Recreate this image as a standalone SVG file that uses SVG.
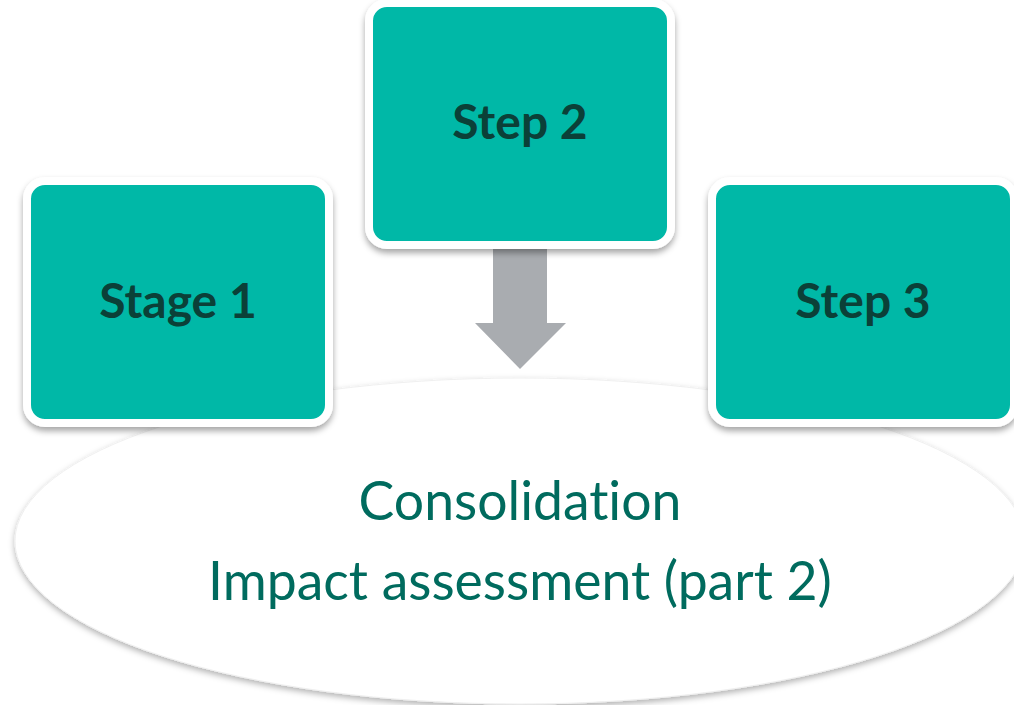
<svg xmlns="http://www.w3.org/2000/svg" width="1014" height="705" viewBox="0 0 1014 705">
<defs>
<filter id="sh" x="-10%" y="-10%" width="120%" height="130%">
<feDropShadow dx="0" dy="4" stdDeviation="3" flood-color="#000" flood-opacity="0.35"/>
</filter>
<filter id="esh" x="-5%" y="-5%" width="110%" height="115%">
<feDropShadow dx="0" dy="3" stdDeviation="3" flood-color="#000" flood-opacity="0.3"/>
</filter>
<style>
.box{fill:#00B8A7;stroke:#fff;stroke-width:8;filter:url(#sh)}
.lbl{font-family:Lato,"Liberation Sans",sans-serif;font-weight:bold;font-size:48px;fill:#0B4038;text-anchor:middle}
.etx{font-family:Lato,"Liberation Sans",sans-serif;font-size:53.5px;fill:#006B5E;text-anchor:middle;font-variant-ligatures:none}
</style>
</defs>
<rect width="1014" height="705" fill="#fff"/>
<g id="consolidation">
<ellipse cx="520" cy="541" rx="505" ry="163" fill="#fff" stroke="#f0f0f0" stroke-width="1" filter="url(#esh)"/>
<text class="etx" x="520" y="520">Consolidation</text>
<text class="etx" x="520" y="600">Impact assessment (part 2)</text>
</g>
<g id="connectors">
<path d="M493,249 H547 V323 H566 L520,369 L475,323 H493 Z" fill="#A9ACB0"/>
</g>
<g id="stage1">
<rect class="box" x="27" y="181" width="302" height="242" rx="18"/>
<text class="lbl" x="178" y="318">Stage 1</text>
</g>
<g id="step2">
<rect class="box" x="369" y="3" width="302" height="242" rx="18"/>
<text class="lbl" x="520" y="139">Step 2</text>
</g>
<g id="step3">
<rect class="box" x="712" y="181" width="302" height="242" rx="18"/>
<text class="lbl" x="863" y="318">Step 3</text>
</g>
</svg>
